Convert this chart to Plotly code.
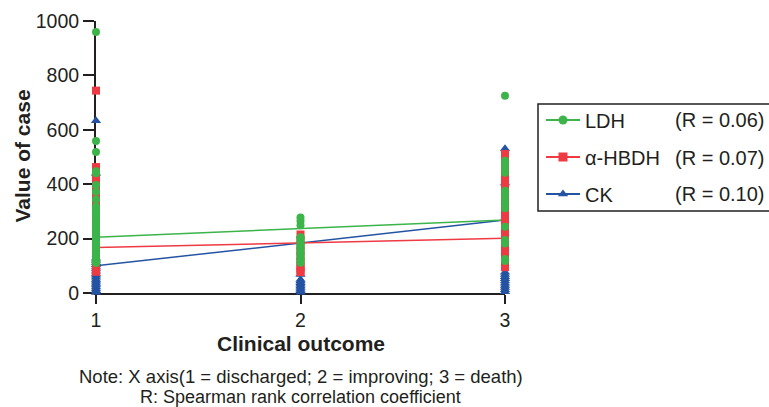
import plotly.graph_objects as go

# ---------------- data ----------------
outcomes = [1, 2, 3]
outcome_ticks = ["1", "2", "3"]
value_ticks = [0, 200, 400, 600, 800, 1000]

ldh_discharged = [960, 559, 518, 448, 440, 397, 372, 344, 318, 311, 303, 296, 288, 281,
                  273, 266, 258, 250, 243, 236, 228, 220, 213, 205, 198, 190, 183, 175,
                  168, 160, 152, 145, 138, 131, 124, 117, 110]
ldh_improving = [278, 265, 249, 205, 199, 192, 185, 178, 171, 164, 157, 150, 143, 136,
                 129, 122, 116, 111]
ldh_death = [725, 486, 472, 457, 442, 376, 360, 344, 328, 312, 244, 195, 182, 125, 118]

hbdh_discharged = [744, 463, 452, 440, 425, 415, 405, 390, 360, 345, 330, 320, 300, 280,
                   250, 220, 190, 160, 130, 110, 100, 92, 85, 78]
hbdh_improving = [215, 195, 175, 155, 135, 115, 100, 90, 82, 77]
hbdh_death = [511, 495, 478, 460, 442, 425, 408, 390, 372, 355, 338, 320, 302, 285, 268,
              250, 232, 215, 198, 180, 162, 145, 128, 110, 95]

ck_discharged = [633, 440, 128, 120, 112, 104, 96, 88, 80, 72, 65, 58, 50, 43, 36, 29,
                 22, 15, 8, 2]
ck_improving = [68, 50, 44, 38, 32, 26, 20, 14, 8, 3]
ck_death = [530, 404, 76, 68, 60, 52, 44, 36, 28, 20, 12, 5]

# fitted trend lines (value at outcome 1 and 3)
trend_x = [1, 3]
ldh_trend = [205, 268]
hbdh_trend = [167, 201]
ck_trend = [100, 268]

series_names = ["LDH", "α-HBDH", "CK"]
r_labels = ["(R = 0.06)", "(R = 0.07)", "(R = 0.10)"]

# ---------------- styling ----------------
W, H = 769, 407
FONT = "Arial, 'Liberation Sans', sans-serif"
INK = "#231f20"
GREEN, RED, BLUE = "#3cb44a", "#ee3a43", "#2453a3"


def px_x(p):
    return p / W


def px_y(p):
    return 1 - p / H


fig = go.Figure()

# trend lines (below points)
for yv, col in [(ck_trend, BLUE), (hbdh_trend, RED), (ldh_trend, GREEN)]:
    fig.add_trace(go.Scatter(x=trend_x, y=yv, mode="lines",
                             line=dict(color=col, width=1.5),
                             showlegend=False, hoverinfo="skip", cliponaxis=False))


def column(groups):
    xs, ys = [], []
    for xv, vals in zip(outcomes, groups):
        xs += [xv] * len(vals)
        ys += vals
    return xs, ys


for groups, col, sym, size in [
    ((ck_discharged, ck_improving, ck_death), BLUE, "triangle-up", 9),
    ((hbdh_discharged, hbdh_improving, hbdh_death), RED, "square", 8),
    ((ldh_discharged, ldh_improving, ldh_death), GREEN, "circle", 8),
]:
    xs, ys = column(groups)
    fig.add_trace(go.Scatter(x=xs, y=ys, mode="markers",
                             marker=dict(color=col, symbol=sym, size=size, line=dict(width=0)),
                             showlegend=False, cliponaxis=False))

# legend entries
for i, (name, col, sym) in enumerate(zip(series_names, [GREEN, RED, BLUE],
                                         ["circle", "square", "triangle-up"])):
    fig.add_trace(go.Scatter(x=[None], y=[None], mode="lines+markers", name=name,
                             legendgroup=f"g{i}",
                             line=dict(color=col, width=2),
                             marker=dict(color=col, symbol=sym, size=9, line=dict(width=0))))

axis_common = dict(showline=True, linecolor=INK, linewidth=2, ticks="outside",
                   tickcolor=INK, tickwidth=2, showgrid=False, zeroline=False,
                   automargin=False, layer="below traces",
                   tickfont=dict(family=FONT, size=19.5, color=INK))

fig.update_layout(
    width=W, height=H,
    margin=dict(l=0, r=0, t=0, b=0),
    paper_bgcolor="white", plot_bgcolor="white",
    font=dict(family=FONT, color=INK),
    xaxis=dict(domain=[px_x(96), px_x(505)], range=[1, 3], tickmode="array",
               tickvals=outcomes, ticktext=outcome_ticks, ticklen=9, **axis_common),
    yaxis=dict(domain=[px_y(293), px_y(21)], range=[0, 1000], tickmode="array",
               tickvals=value_ticks, ticklen=11, **axis_common),
    legend=dict(x=px_x(541), y=px_y(100.5), xanchor="left", yanchor="top",
                bgcolor="rgba(0,0,0,0)", borderwidth=0, traceorder="grouped",
                itemwidth=34,
                tracegroupgap=8, font=dict(family=FONT, size=20, color=INK)),
    showlegend=True,
)

# legend frame
fig.add_shape(type="rect", xref="paper", yref="paper",
              x0=px_x(538), x1=px_x(772), y0=px_y(211), y1=px_y(104),
              line=dict(color=INK, width=1.5))

annotations = [
    dict(text="<b>Value of case</b>", x=px_x(21.5), y=px_y(156), textangle=-90,
         font=dict(size=21)),
    dict(text="<b>Clinical outcome</b>", x=px_x(301), y=px_y(343), font=dict(size=21)),
    dict(text="Note: X axis(1 = discharged; 2 = improving; 3 = death)",
         x=px_x(301), y=px_y(376.5), font=dict(size=18.5)),
    dict(text="R: Spearman rank correlation coefficient",
         x=px_x(300), y=px_y(396.5), font=dict(size=18)),
]
for lab, ypx in zip(r_labels, [120, 158, 194]):
    annotations.append(dict(text=lab, x=px_x(673), y=px_y(ypx), xanchor="left",
                            font=dict(size=20)))

for a in annotations:
    a.setdefault("xanchor", "center")
    fig.add_annotation(xref="paper", yref="paper", yanchor="middle", showarrow=False,
                       font_family=FONT, font_color=INK, **a)

fig.write_html("out.html")
